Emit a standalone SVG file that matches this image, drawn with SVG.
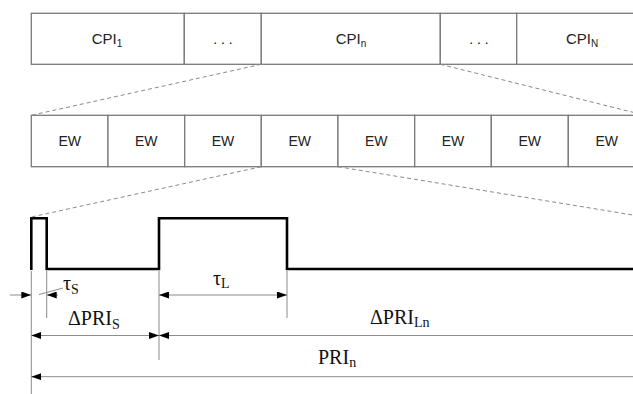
<svg xmlns="http://www.w3.org/2000/svg" width="633" height="394" viewBox="0 0 633 394">
<defs>
<style>
.box{fill:#fff;stroke:#7a7a7a;stroke-width:1.3}
.lbl{font-family:"Liberation Sans",Arial,sans-serif;font-size:14px;fill:#222;text-anchor:middle}
.cpi{font-size:15px}
.sub{font-size:10px}
.dash{fill:none;stroke:#8a8a8a;stroke-width:1;stroke-dasharray:4 3}
.dim{fill:none;stroke:#8c8c8c;stroke-width:1}
.math{font-family:"Liberation Serif","Times New Roman",serif;font-size:20px;fill:#111}
.msub{font-size:14px}
.pulse{fill:none;stroke:#000;stroke-width:2.6}
</style>
<marker id="ah" viewBox="0 0 10 7" refX="10" refY="3.5" markerWidth="10" markerHeight="7" markerUnits="userSpaceOnUse" orient="auto">
<path d="M0,0 L10,3.5 L0,7 Z" fill="#000"/>
</marker>
</defs>

<g id="cpi-row">
<g id="cpi1"><rect class="box" x="31.3" y="13.3" width="153" height="51"/><text class="lbl cpi" x="107" y="44">CPI<tspan class="sub" dy="3">1</tspan></text></g>
<g id="cpi-dots1"><rect class="box" x="184.3" y="13.3" width="77" height="51"/><text class="lbl" x="223" y="44">. . .</text></g>
<g id="cpin"><rect class="box" x="261.3" y="13.3" width="179" height="51"/><text class="lbl cpi" x="351" y="44">CPI<tspan class="sub" dy="3">n</tspan></text></g>
<g id="cpi-dots2"><rect class="box" x="440.3" y="13.3" width="76.4" height="51"/><text class="lbl" x="479" y="44">. . .</text></g>
<g id="cpiN"><rect class="box" x="516.7" y="13.3" width="140" height="51"/><text class="lbl cpi" x="582" y="44">CPI<tspan class="sub" dy="3">N</tspan></text></g>
</g>

<g id="ew-row">
<g id="ew1"><rect class="box" x="31.3" y="115.3" width="76.7" height="51.4"/><text class="lbl" x="69.7" y="146">EW</text></g>
<g id="ew2"><rect class="box" x="108" y="115.3" width="76.7" height="51.4"/><text class="lbl" x="146.3" y="146">EW</text></g>
<g id="ew3"><rect class="box" x="184.7" y="115.3" width="76.6" height="51.4"/><text class="lbl" x="223" y="146">EW</text></g>
<g id="ew4"><rect class="box" x="261.3" y="115.3" width="76.7" height="51.4"/><text class="lbl" x="299.7" y="146">EW</text></g>
<g id="ew5"><rect class="box" x="338" y="115.3" width="76.7" height="51.4"/><text class="lbl" x="376.3" y="146">EW</text></g>
<g id="ew6"><rect class="box" x="414.7" y="115.3" width="76.6" height="51.4"/><text class="lbl" x="453" y="146">EW</text></g>
<g id="ew7"><rect class="box" x="491.3" y="115.3" width="77" height="51.4"/><text class="lbl" x="529.7" y="146">EW</text></g>
<g id="ew8"><rect class="box" x="568.3" y="115.3" width="76.7" height="51.4"/><text class="lbl" x="606.7" y="146">EW</text></g>
</g>

<g id="waveform">
<path class="pulse" d="M31.3,270 V218.3 H46.7 V269 H159 V218.3 H287 V269 H640"/>
</g>

<g id="connectors">
<line class="dash" x1="261.3" y1="64.3" x2="31.3" y2="115.3"/>
<line class="dash" x1="440.3" y1="64.3" x2="645" y2="115.3"/>
<line class="dash" x1="261.3" y1="166.7" x2="31.3" y2="217"/>
<line class="dash" x1="338" y1="166.7" x2="645" y2="217"/>

<line class="dim" x1="31.3" y1="271" x2="31.3" y2="394"/>
<line class="dim" x1="46.7" y1="271" x2="46.7" y2="318"/>
<line class="dim" x1="159" y1="271" x2="159" y2="360"/>
<line class="dim" x1="287" y1="271" x2="287" y2="318"/>

<line class="dim" x1="10" y1="295" x2="31.3" y2="295" marker-end="url(#ah)"/>
<line class="dim" x1="58" y1="295" x2="46.7" y2="295" marker-end="url(#ah)"/>
<line class="dim" x1="39" y1="294.5" x2="63" y2="288"/>

<line class="dim" x1="223" y1="295" x2="159" y2="295" marker-end="url(#ah)"/>
<line class="dim" x1="223" y1="295" x2="287" y2="295" marker-end="url(#ah)"/>

<line class="dim" x1="95" y1="335.5" x2="31.3" y2="335.5" marker-end="url(#ah)"/>
<line class="dim" x1="95" y1="335.5" x2="159" y2="335.5" marker-end="url(#ah)"/>
<line class="dim" x1="640" y1="335.5" x2="159" y2="335.5" marker-end="url(#ah)"/>

<line class="dim" x1="640" y1="376.7" x2="31.3" y2="376.7" marker-end="url(#ah)"/>
</g>

<g id="labels">
<text class="math" x="63" y="290">τ<tspan class="msub" dy="4">S</tspan></text>
<text class="math" x="213" y="285">τ<tspan class="msub" dy="3">L</tspan></text>
<text class="math" x="68" y="325">ΔPRI<tspan class="msub" dy="4">S</tspan></text>
<text class="math" x="370" y="324">ΔPRI<tspan class="msub" dy="3">Ln</tspan></text>
<text class="math" x="318" y="364">PRI<tspan class="msub" dy="3">n</tspan></text>
</g>
</svg>
